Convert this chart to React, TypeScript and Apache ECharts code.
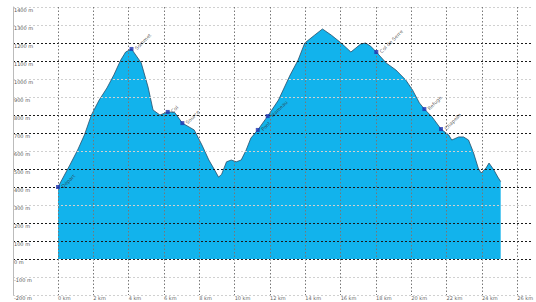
import React, { useEffect, useRef } from "react";
import * as echarts from "echarts";

const distanceKm = [0, 0.22, 0.67, 1.11, 1.5, 1.89, 2.33, 2.77, 3.16, 3.55, 3.83, 4.16, 4.71, 5.1, 5.38, 5.77, 6.21, 6.6, 7.04, 7.71, 8.15, 8.54, 8.87, 9.09, 9.26, 9.54, 9.81, 10.09, 10.37, 10.65, 10.92, 11.31, 11.87, 12.48, 13.14, 13.59, 13.97, 14.53, 14.97, 15.47, 16.03, 16.58, 16.86, 17.13, 17.41, 17.69, 18.02, 18.58, 19.13, 19.69, 20.07, 20.46, 20.74, 21.18, 21.68, 22.12, 22.29, 22.68, 22.96, 23.24, 23.51, 23.79, 23.95, 24.23, 24.4, 24.68, 24.9, 25.06];
const elevationM = [400, 440, 522, 605, 690, 800, 883, 950, 1022, 1105, 1150, 1167, 1090, 955, 828, 800, 817, 815, 755, 717, 633, 550, 494, 455, 470, 540, 550, 540, 550, 605, 672, 717, 794, 883, 1022, 1105, 1200, 1244, 1278, 1244, 1200, 1150, 1172, 1194, 1200, 1183, 1150, 1089, 1050, 994, 939, 867, 833, 789, 722, 689, 661, 678, 678, 661, 594, 505, 478, 505, 533, 494, 455, 430];

const waypointNames = ["Départ", "Sommet", "Col", "Source", "Pont", "Hameau", "Col de Serre", "Refuge", "Chapelle"];
const waypointKm = [0, 4.16, 6.21, 7.04, 11.31, 11.87, 18.02, 20.74, 21.68];
const waypointM = [400, 1167, 817, 755, 717, 794, 1150, 833, 722];

const yMin = -200;
const yMax = 1400;
const yStep = 100;
const xMax = 26;
const xStep = 2;

// gridline tone per level from -200 upward (as seen in the picture)
const gridTones = ["light", "light", "dark", "dark", "dark", "light", "dark", "dark", "light", "dark", "dark", "light", "light", "dark", "dark", "light", "light"];

export default function App() {
  const ref = useRef<HTMLDivElement>(null);
  useEffect(() => {
    if (!ref.current) return;
    const chart = echarts.init(ref.current, null, { renderer: "svg" });
    const top = 7;
    const bottom = 7;
    const lineColors = gridTones.map((t) => (t === "dark" ? "#1a1a1a" : "#d0d0d0"));
    chart.setOption({
      animation: false,
      grid: [
        { left: 13, right: 5, top, bottom },
        { left: 58, right: 9, top, bottom },
      ],
      xAxis: [
        { type: "value", gridIndex: 0, min: 0, max: 1, show: false },
        {
          type: "value",
          gridIndex: 1,
          min: 0,
          max: xMax,
          interval: xStep,
          z: 5,
          axisLine: { show: false },
          axisTick: { show: false },
          axisLabel: {
            fontSize: 5,
            color: "#666",
            align: "left",
            margin: 0,
            formatter: (v: number) => `${v} km`,
            fontFamily: "DejaVu Sans",
          },
          splitLine: { show: true, lineStyle: { color: "#777", type: [1.5, 2], width: 1 } },
        },
      ],
      yAxis: [
        {
          type: "value",
          gridIndex: 0,
          min: yMin,
          max: yMax,
          interval: yStep,
          z: 5,
          axisLine: { show: true, lineStyle: { color: "#bbb" } },
          axisTick: { show: false },
          axisLabel: {
            inside: true,
            margin: 1,
            fontSize: 5,
            color: "#555",
            verticalAlign: "top",
            formatter: (v: number) => `${v} m`,
            fontFamily: "DejaVu Sans",
          },
          splitLine: { show: true, lineStyle: { color: lineColors, type: [2, 2], width: 1 } },
        },
        { type: "value", gridIndex: 1, min: yMin, max: yMax, interval: yStep, show: false },
      ],
      series: [
        {
          type: "line",
          xAxisIndex: 1,
          yAxisIndex: 1,
          data: distanceKm.map((d, i) => [d, elevationM[i]]),
          symbol: "none",
          lineStyle: { color: "#2b4f6a", width: 0.8 },
          areaStyle: { color: "#12b3ec", opacity: 1, origin: 0 },
          z: 2,
        },
        {
          type: "scatter",
          xAxisIndex: 1,
          yAxisIndex: 1,
          data: waypointKm.map((d, i) => ({ value: [d, waypointM[i]], name: waypointNames[i] })),
          symbol: "rect",
          symbolSize: 4,
          itemStyle: { color: "#1f33b0" },
          z: 6,
          label: {
            show: true,
            formatter: (p: any) => p.name,
            rotate: 45,
            position: "right",
            distance: 2,
            fontSize: 5,
            color: "#333",
            fontFamily: "DejaVu Sans",
          },
        },
      ],
    });
    return () => chart.dispose();
  }, []);
  return <div ref={ref} style={{ width: 536, height: 302, position: "fixed", left: 0, top: 0, background: "#fff" }} />;
}
